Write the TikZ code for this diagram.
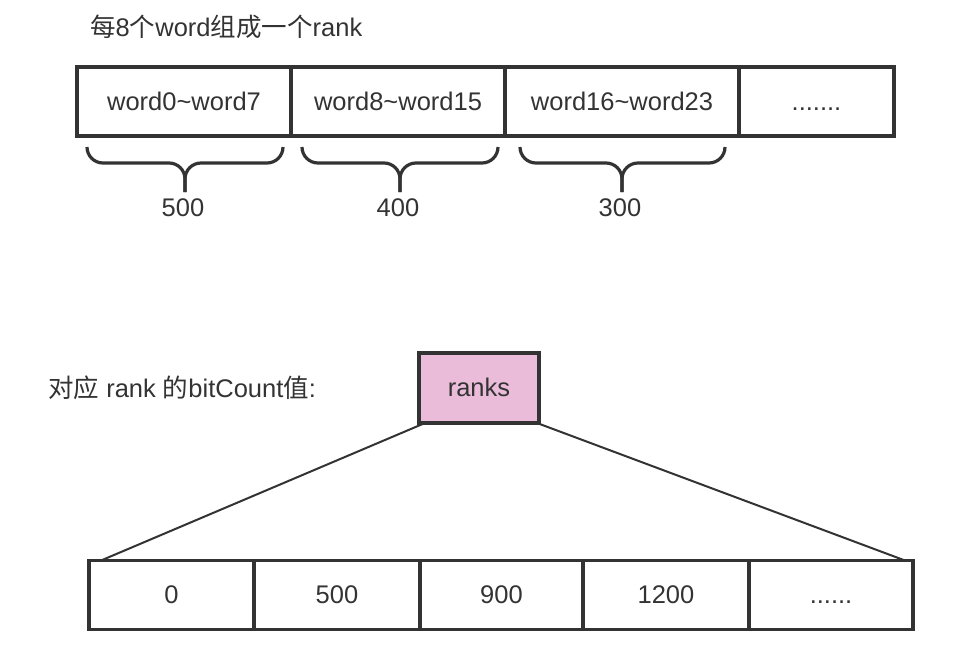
\documentclass[tikz,border=0pt]{standalone}
\usepackage{fontspec}
\setmainfont{Liberation Sans}
\newfontfamily\cjk{Noto Sans CJK SC}
\usetikzlibrary{positioning}
\definecolor{inkgray}{HTML}{333333}
\definecolor{rankpink}{HTML}{EBBCD9}

\begin{document}
\begin{tikzpicture}[x=1pt,y=-1pt,
                cell/.style={
                    draw=inkgray,
                    line width=3.2pt,
                    rectangle,
                    minimum height=69pt,
                    inner sep=0pt,
                    outer sep=0pt,
                    text height=18pt,
                    text depth=1pt,
                    text=inkgray,
                    font=\fontsize{25.5}{30}\selectfont
                },
                rankbox/.style={
                    cell,
                    fill=rankpink,
                    minimum width=120pt,
                    minimum height=70pt
                },
                caption/.style={
                    inner sep=0pt,
                    anchor=west,
                    text=inkgray,
                    font=\fontsize{25.5}{30}\selectfont
                },
                brace/.style={
                    draw=inkgray,
                    line width=3.2pt,
                    rounded corners=16pt
                },
                link/.style={
                    draw=inkgray,
                    line width=2pt
                }
            ]
                \useasboundingbox (0,0) rectangle (972,654);

                % group of words
                \node[caption] (title) at (90,27) {{\cjk 每}8{\cjk 个}word{\cjk 组成一个}rank};
                \node[cell, minimum width=214pt] (w1) at (184,101.5) {word0\textasciitilde word7};
                \node[cell, minimum width=214pt, right=0pt of w1] (w2) {word8\textasciitilde word15};
                \node[cell, minimum width=234pt, right=0pt of w2] (w3) {word16\textasciitilde word23};
                \node[cell, minimum width=155pt, right=0pt of w3] (w4) {.......};

                % bit counts of each group
                \foreach \i/\l/\r/\m/\v in {1/87/283/185/500, 2/302/498/400/400, 3/520/725/622/300} {
                    \draw[brace] (\l,147) |- (\m,163) -- (\m,192);
                    \draw[brace] (\r,147) |- (\m,163) -- (\m,192);
                    \node[caption, anchor=center] (sum\i) at (\m-2,208) {\v};
                }

                % ranks array
                \node[caption] (rlabel) at (48,388) {{\cjk 对应} rank {\cjk 的}bitCount{\cjk 值}:};
                \node[rankbox] (ranks) at (479,388) {ranks};
                \node[cell, minimum width=165pt] (b1) at (171.5,595) {0};
                \node[cell, minimum width=166pt, right=0pt of b1] (b2) {500};
                \node[cell, minimum width=163pt, right=0pt of b2] (b3) {900};
                \node[cell, minimum width=166pt, right=0pt of b3] (b4) {1200};
                \node[cell, minimum width=164pt, right=0pt of b4] (b5) {......};

                \draw[link] ([xshift=6pt]ranks.south west) -- ([xshift=12pt]b1.north west);
                \draw[link] ([xshift=-2pt]ranks.south east) -- ([xshift=-8pt]b5.north east);
        \end{tikzpicture}
\end{document}
